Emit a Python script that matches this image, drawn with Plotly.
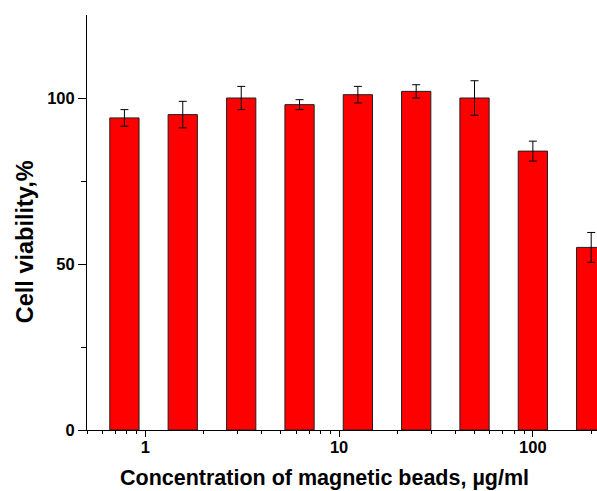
import plotly.graph_objects as go
import numpy as np

conc = [0.78, 1.56, 3.125, 6.25, 12.5, 25, 50, 100, 200]
viability = [94, 95, 100, 98, 101, 102, 100, 84, 55]
err = [2.5, 4, 3.5, 1.5, 2.5, 2, 5.2, 3, 4.5]
xtick_vals = [1, 10, 100]
xtick_text = ["1", "10", "100"]
ytick_vals = [0, 50, 100]
ytick_minor = [25, 75]

# bar width in decades on the log axis -> convert to linear offset/width per bar
half_dec = 0.0755
c = np.array(conc, dtype=float)
left = c * 10 ** (-half_dec)
right = c * 10 ** (half_dec)

fig = go.Figure()
fig.add_trace(go.Bar(
    x=conc, y=viability,
    offset=(left - c).tolist(),
    width=(right - left).tolist(),
    marker=dict(color="#FF0000", line=dict(color="#202020", width=1)),
))
fig.add_trace(go.Scatter(
    x=conc, y=viability, mode="markers",
    marker=dict(size=0.1, color="rgba(0,0,0,0)"),
    error_y=dict(type="data", array=err, color="black", thickness=1, width=4),
    hoverinfo="skip",
))

font = "Liberation Sans, Arial, sans-serif"
fig.update_layout(
    width=597, height=491,
    margin=dict(l=87, r=0, t=15, b=61),
    paper_bgcolor="white", plot_bgcolor="white",
    showlegend=False,
    font=dict(family=font, color="black"),
    xaxis=dict(
        type="log", range=[np.log10(0.5), 2.331],
        tickvals=xtick_vals, ticktext=xtick_text,
        ticks="outside", ticklen=6, tickwidth=1, tickcolor="black",
        ticklabelstandoff=-4,
        showline=True, linecolor="black", linewidth=1,
        showgrid=False, zeroline=False,
        tickfont=dict(size=16.5, family=font, weight="bold"),
        minor=dict(ticks="outside", ticklen=3, tickwidth=1, tickcolor="black", dtick="D1", showgrid=False),
    ),
    yaxis=dict(
        range=[0, 125], tickvals=ytick_vals,
        ticks="outside", ticklen=8, tickwidth=1, tickcolor="black",
        showline=True, linecolor="black", linewidth=1,
        showgrid=False, zeroline=False,
        tickfont=dict(size=16.5, family=font, weight="bold"),
        minor=dict(ticks="outside", ticklen=5, tickwidth=1, tickcolor="black", tickvals=ytick_minor, showgrid=False),
    ),
    annotations=[
        dict(text="Concentration of magnetic beads, µg/ml", xref="paper", yref="paper",
             x=(324 - 87) / 510, y=(430 - 491) / 415, xanchor="center", yanchor="bottom", showarrow=False,
             borderpad=0, font=dict(size=21.5, family=font, weight="bold")),
        dict(text="Cell viability,%", xref="paper", yref="paper",
             x=(24.5 - 87) / 510, y=(430 - 241.7) / 415, xanchor="center", yanchor="middle", showarrow=False,
             textangle=-90, font=dict(size=23.5, family=font, weight="bold")),
    ],
)

fig.write_html("out.html", config={"displayModeBar": False},
               post_script="document.body.style.margin='0';document.body.style.overflow='hidden';")
